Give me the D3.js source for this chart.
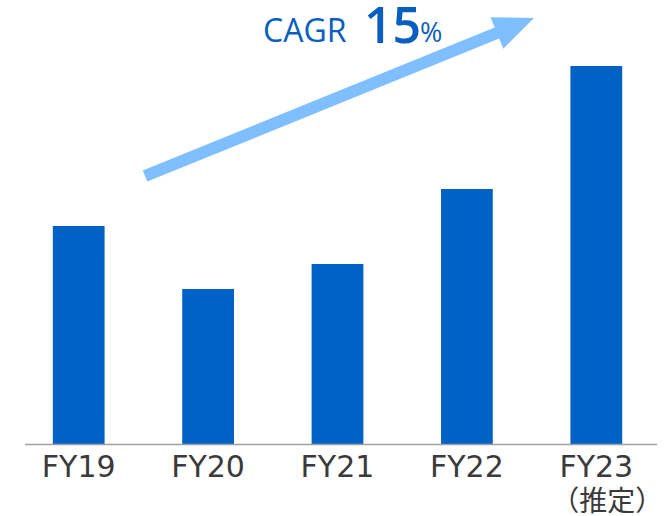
<!DOCTYPE html>
<html>
<head>
<meta charset="utf-8">
<script src="https://cdn.jsdelivr.net/npm/d3@7"></script>
<style>
  body { margin: 0; background: #fff; }
  svg { display: block; }
</style>
</head>
<body>
<div></div>
<script>
var categories = ["FY19", "FY20", "FY21", "FY22", "FY23"],
    subLabels = ["", "", "", "", "（推定）"],
    values = [218, 155, 180, 255, 378];

var width = 666,
    height = 516,
    baseY = 444;

var svg = d3.select("div").append("svg")
            .attr("width", width)
            .attr("height", height);

var x = d3.scaleBand()
          .domain(categories)
          .range([14, 661])
          .paddingInner(0.6)
          .paddingOuter(0.3);

var y = d3.scaleLinear()
          .domain([0, 400])
          .range([baseY, 44]);

// bars
svg.selectAll("rect.bar")
   .data(values)
   .enter().append("rect")
   .attr("class", "bar")
   .attr("x", function (d, i) { return x(categories[i]); })
   .attr("y", function (d) { return y(d); })
   .attr("width", x.bandwidth())
   .attr("height", function (d) { return y(0) - y(d); })
   .attr("fill", "#0062c4");

// baseline
svg.append("line")
   .attr("x1", 25).attr("x2", 657)
   .attr("y1", baseY + 0.5).attr("y2", baseY + 0.5)
   .attr("stroke", "#a0a0a0")
   .attr("stroke-width", 1.5);

// category labels
var labels = svg.append("g")
   .attr("fill", "#3a3a3a")
   .attr("text-anchor", "middle");

categories.forEach(function (c, i) {
  var cx = x(c) + x.bandwidth() / 2;
  labels.append("text")
        .attr("x", cx).attr("y", 477)
        .attr("font-family", "'DejaVu Sans', sans-serif")
        .attr("font-size", 30)
        .text(c);
  if (subLabels[i]) {
    labels.append("text")
          .attr("x", cx + 11).attr("y", 511)
          .attr("font-family", "'Noto Sans CJK JP', sans-serif")
          .attr("font-size", 28)
          .text(subLabels[i]);
  }
});

// growth arrow
var x0 = 145, y0 = 176, x1 = 534, y1 = 18;
var ang = Math.atan2(y1 - y0, x1 - x0),
    len = Math.hypot(x1 - x0, y1 - y0),
    shaft = 12, headLen = 40, headW = 34;

svg.append("path")
   .attr("transform", "translate(" + x0 + "," + y0 + ") rotate(" + (ang * 180 / Math.PI) + ")")
   .attr("d", "M0," + (-shaft/2) +
              " L" + (len - headLen) + "," + (-shaft/2) +
              " L" + (len - headLen) + "," + (-headW/2) +
              " L" + len + ",0" +
              " L" + (len - headLen) + "," + (headW/2) +
              " L" + (len - headLen) + "," + (shaft/2) +
              " L0," + (shaft/2) + " Z")
   .attr("fill", "#80bfff");

// CAGR label
var cagr = svg.append("g")
   .attr("font-family", "'Open Sans', 'Noto Sans', sans-serif")
   .attr("fill", "#0a5ec0");
cagr.append("text").attr("x", 263).attr("y", 42).attr("font-size", 32).text("CAGR");
cagr.append("text").attr("x", 364).attr("y", 43).attr("font-size", 50).attr("font-weight", 600).text("15");
cagr.append("text").attr("x", 420).attr("y", 42).attr("font-size", 27).text("%");
</script>
</body>
</html>
